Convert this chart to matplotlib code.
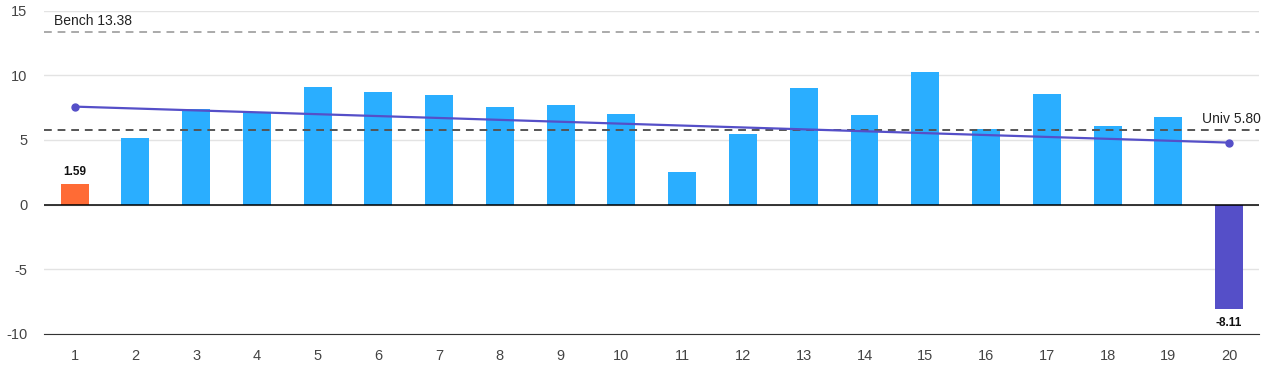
import matplotlib
matplotlib.use("Agg")
import matplotlib.pyplot as plt
import numpy as np

plt.rcParams['font.family'] = ['Liberation Sans', 'DejaVu Sans']
plt.rcParams['axes.unicode_minus'] = False

# data
ranks = list(range(1, 21))
values = [1.59, 5.18, 7.42, 7.19, 9.13, 8.74, 8.50, 7.58, 7.73, 7.04,
          2.55, 5.49, 9.05, 6.96, 10.28, 5.88, 8.58, 6.11, 6.80, -8.11]
bench = 13.38
univ = 5.80
yticks = [-10, -5, 0, 5, 10, 15]

blue = '#2aaeff'
orange = '#ff6b35'
purple = '#554fc8'

colors = [blue] * len(values)
colors[0] = orange
colors[-1] = purple

fig = plt.figure(figsize=(12.62, 3.79), dpi=100)
ax = fig.add_axes([0.035, 0.119, 0.963, 0.853])

ax.bar(ranks, values, width=0.46, color=colors, zorder=3)

# linear trend through all points
x = np.array(ranks)
k, b = np.polyfit(x, values, 1)
ax.plot([x[0], x[-1]], [k * x[0] + b, k * x[-1] + b], color=purple, lw=1.6,
        marker='o', markersize=5, zorder=5)

ax.axhline(bench, color='#aaaaaa', ls=(0, (4, 3)), lw=1.4, zorder=2)
ax.axhline(univ, color='#555555', ls=(0, (4, 3)), lw=1.4, zorder=4)
ax.text(0.66, bench + 0.25, f"Bench {bench:.2f}", fontsize=10, color='#222222', va='bottom')
ax.text(20.52, univ + 0.25, f"Univ {univ:.2f}", fontsize=10, color='#222222', va='bottom', ha='right')

# labels on highlighted bars
ax.text(ranks[0], values[0] + 0.5, f"{values[0]:.2f}", ha='center', va='bottom',
        fontsize=8.5, fontweight='bold', color='#111111')
ax.text(ranks[-1], values[-1] - 0.55, f"{values[-1]:.2f}", ha='center', va='top',
        fontsize=8.5, fontweight='bold', color='#111111')

ax.axhline(0, color='black', lw=1.1, zorder=4)
ax.set_xlim(0.5, 20.5)
ax.set_ylim(-10, 15)
ax.set_yticks(yticks)
ax.set_xticks(ranks)
ax.grid(axis='y', color='#e3e3e3', lw=1, zorder=0)
for s in ['top', 'right', 'left']:
    ax.spines[s].set_visible(False)
ax.spines['bottom'].set_color('#333333')
ax.tick_params(axis='both', length=0, labelsize=10.5, labelcolor='#444444')
ax.tick_params(axis='x', pad=11)
ax.tick_params(axis='y', pad=12)

fig.savefig('out.png', dpi=100)
